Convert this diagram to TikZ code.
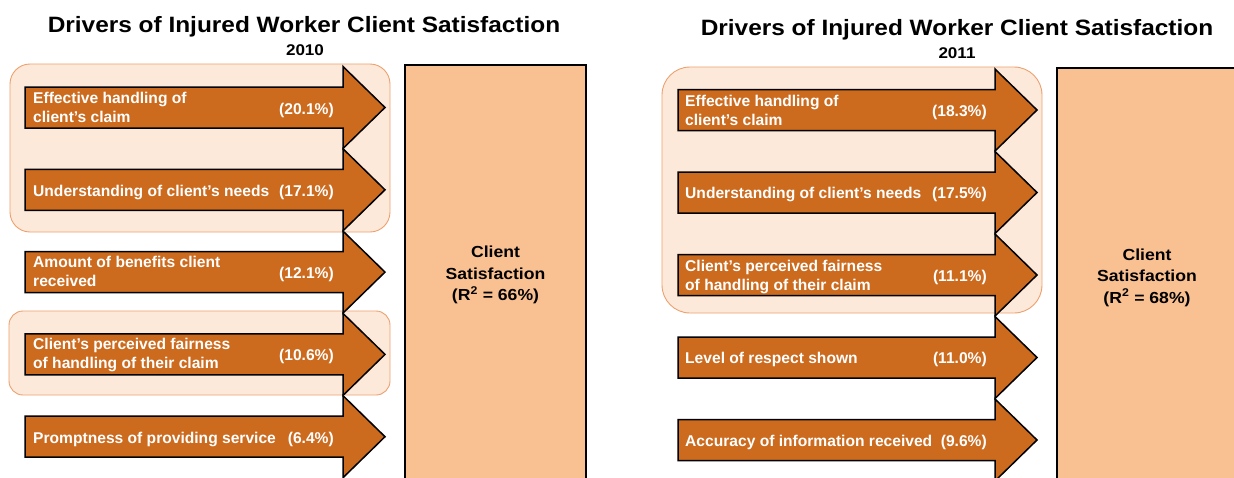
\documentclass[tikz,border=0pt]{standalone}
\usepackage{fontspec}
\setmainfont{Liberation Sans}
\newfontfamily\widefont{Liberation Sans}[FakeStretch=1.1]
\definecolor{arroworange}{RGB}{204,106,30}
\definecolor{csfill}{RGB}{249,192,145}
\definecolor{grpfill}{RGB}{253,233,218}
\definecolor{grpedge}{RGB}{236,160,110}
\begin{document}
\begin{tikzpicture}[x=1pt,y=-1pt,
  grp/.style={fill=grpfill, draw=grpedge, line width=0.9pt},
  drv/.style={fill=arroworange, draw=black, line width=1.5pt, line join=miter},
  lbl/.style={anchor=base west, align=left, text=white, inner sep=0pt,
    font=\fontsize{15.6}{19}\selectfont\bfseries},
  pct/.style={anchor=base east, text=white, inner sep=0pt,
    font=\fontsize{15.6}{19}\selectfont\bfseries},
  ttl/.style={anchor=base, inner sep=0pt, font=\widefont\fontsize{22.2}{26}\selectfont\bfseries},
  yr/.style={anchor=base, inner sep=0pt, font=\widefont\fontsize{15.5}{18}\selectfont\bfseries},
  csbox/.style={fill=csfill, draw=black, line width=1.5pt},
  cstext/.style={anchor=base, align=center, inner sep=0pt,
    font=\widefont\fontsize{16}{21.4}\selectfont\bfseries}
]
\useasboundingbox (0,0) rectangle (1234,477);
\clip (0,0) rectangle (1234,477);

% ---------- 2010 ----------
\node[ttl] (t1) at (304,32.3) {Drivers of Injured Worker Client Satisfaction};
\node[yr] (y1) at (305,55) {2010};
\draw[grp, rounded corners=20pt] (10,64) rectangle (390,232);
\draw[grp, rounded corners=14pt] (9,311) rectangle (390,395);
\draw[csbox] (405,65) rectangle (586,495);
\node[cstext] (cs1) at (495.5,300.5) {Client\\Satisfaction\\(R\textsuperscript{2} = 66\%)};

\foreach \c/\o/\t/\p [count=\i] in {
  107.5/14.5/{Effective handling of\\client’s claim}/{(20.1\%)},
  189.8/6.5/{Understanding of client’s needs}/{(17.1\%)},
  272.1/14.5/{Amount of benefits client\\received}/{(12.1\%)},
  354.4/14.5/{Client’s perceived fairness\\of handling of their claim}/{(10.6\%)},
  436.7/6.5/{Promptness of providing service}/{(6.4\%)}}{
  \draw[drv] (25,\c-20.5) -- (343,\c-20.5) -- (343,\c-41) -- (385,\c)
    -- (343,\c+41) -- (343,\c+20.5) -- (25,\c+20.5) -- cycle;
  \node[lbl] (la\i) at (33,\c+\o) {\t};
  \node[pct] (pa\i) at (334,\c+6.5) {\p};
}

% ---------- 2011 ----------
\node[ttl] (t2) at (957,35) {Drivers of Injured Worker Client Satisfaction};
\node[yr] (y2) at (957,58) {2011};
\draw[grp, rounded corners=28pt] (662,67) rectangle (1042,313);
\draw[csbox] (1057,68) rectangle (1245,495);
\node[cstext] (cs2) at (1147,303) {Client\\Satisfaction\\(R\textsuperscript{2} = 68\%)};

\foreach \c/\o/\t/\p [count=\i] in {
  110/15/{Effective handling of\\client’s claim}/{(18.3\%)},
  192.5/6/{Understanding of client’s needs}/{(17.5\%)},
  275/15/{Client’s perceived fairness\\of handling of their claim}/{(11.1\%)},
  357.5/6/{Level of respect shown}/{(11.0\%)},
  440/6/{Accuracy of information received}/{(9.6\%)}}{
  \draw[drv] (678,\c-20.5) -- (995,\c-20.5) -- (995,\c-41) -- (1037,\c)
    -- (995,\c+41) -- (995,\c+20.5) -- (678,\c+20.5) -- cycle;
  \node[lbl] (lb\i) at (685,\c+\o) {\t};
  \node[pct] (pb\i) at (987,\c+6) {\p};
}
\end{tikzpicture}
\end{document}
